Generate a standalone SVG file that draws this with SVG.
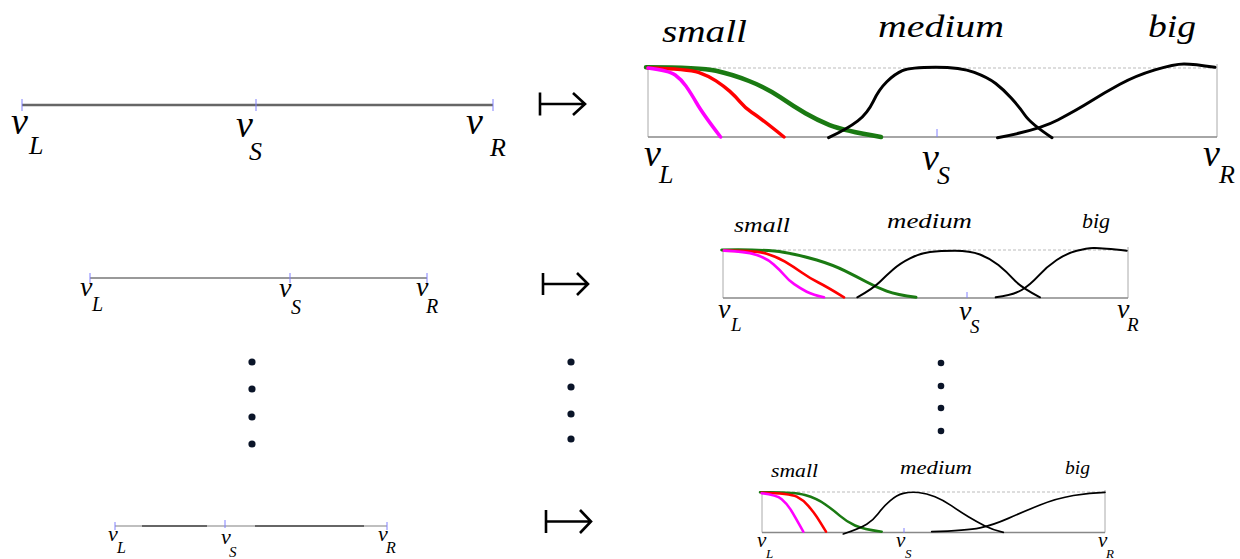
<svg xmlns="http://www.w3.org/2000/svg" width="1240" height="559" viewBox="0 0 1240 559">
<style>
text{font-family:'Liberation Serif','Times New Roman',serif;font-style:italic;fill:#000}
.tick{stroke:#8080ff;stroke-width:1}
.axis{stroke:#888;stroke-width:1.3;fill:none}
.dash{stroke:#bbb;stroke-width:1;stroke-dasharray:3 2;fill:none}
.side{stroke:#aaa;stroke-width:1;fill:none}
.c{fill:none;stroke-linecap:round;stroke-linejoin:round}
.mag{stroke:#ff00ff}.red{stroke:#ff0000}.grn{stroke:#1a7a12}.blk{stroke:#000}
.map{stroke:#000;stroke-width:2.6;fill:none;stroke-linejoin:miter}
.dot{fill:#0a1428}
</style>
<rect width="1240" height="559" fill="#fff"/>

<g id="left1">
<line x1="22" y1="105" x2="493" y2="105" stroke="#666" stroke-width="2.5"/>
<line class="tick" x1="22" y1="99" x2="22" y2="111"/>
<line class="tick" x1="256" y1="99" x2="256" y2="111"/>
<line class="tick" x1="493" y1="99" x2="493" y2="111"/>
<text x="11" y="134" font-size="38">v</text><text x="29" y="154" font-size="26">L</text>
<text x="236" y="137" font-size="38">v</text><text x="249" y="160" font-size="26">S</text>
<text x="466" y="134" font-size="38">v</text><text x="490" y="156" font-size="26">R</text>
</g>

<g id="left2">
<line x1="90" y1="278" x2="427" y2="278" stroke="#777" stroke-width="1.5"/>
<line class="tick" x1="90" y1="273" x2="90" y2="283"/>
<line class="tick" x1="290" y1="273" x2="290" y2="283"/>
<line class="tick" x1="427" y1="273" x2="427" y2="283"/>
<text x="80" y="296" font-size="28">v</text><text x="92" y="311" font-size="20">L</text>
<text x="279" y="297" font-size="28">v</text><text x="291" y="314" font-size="20">S</text>
<text x="416" y="296" font-size="28">v</text><text x="426" y="313" font-size="20">R</text>
</g>

<g id="left3">
<line x1="115" y1="526" x2="142" y2="526" stroke="#aaa" stroke-width="1.5"/>
<line x1="142" y1="526" x2="207" y2="526" stroke="#333" stroke-width="1.5"/>
<line x1="207" y1="526" x2="255" y2="526" stroke="#aaa" stroke-width="1.5"/>
<line x1="255" y1="526" x2="364" y2="526" stroke="#333" stroke-width="1.5"/>
<line x1="364" y1="526" x2="387" y2="526" stroke="#aaa" stroke-width="1.5"/>
<line class="tick" x1="115" y1="522" x2="115" y2="530"/>
<line class="tick" x1="225" y1="520" x2="225" y2="528"/>
<line class="tick" x1="387" y1="522" x2="387" y2="530"/>
<text x="108" y="541" font-size="22">v</text><text x="117" y="553" font-size="16">L</text>
<text x="221" y="544" font-size="22">v</text><text x="229" y="557" font-size="15">S</text>
<text x="378" y="541" font-size="22">v</text><text x="386" y="553" font-size="16">R</text>
</g>

<g id="dots">
<circle class="dot" cx="252" cy="362" r="3.6"/><circle class="dot" cx="252" cy="389" r="3.6"/><circle class="dot" cx="252" cy="417" r="3.6"/><circle class="dot" cx="252" cy="444" r="3.6"/>
<circle class="dot" cx="571" cy="362" r="3.6"/><circle class="dot" cx="571" cy="387" r="3.6"/><circle class="dot" cx="571" cy="414" r="3.6"/><circle class="dot" cx="571" cy="439" r="3.6"/>
<circle class="dot" cx="941" cy="363" r="3.3"/><circle class="dot" cx="941" cy="386" r="3.3"/><circle class="dot" cx="941" cy="408" r="3.3"/><circle class="dot" cx="941" cy="431" r="3.3"/>
</g>

<g id="connectors">
<path class="map" d="M540,92.5V115.5M540,104H585M573,93L585,104L573,115"/>
<path class="map" d="M543,273V295M543,284H588M577,273L588,284L577,295"/>
<path class="map" d="M546,510V533M546,521.5H591M580,510L591,521.5L580,533"/>
</g>

<g id="right1">
<text x="662" y="42" font-size="32" textLength="85" lengthAdjust="spacingAndGlyphs">small</text>
<text x="878" y="37" font-size="32" textLength="126" lengthAdjust="spacingAndGlyphs">medium</text>
<text x="1148" y="37" font-size="32" textLength="48" lengthAdjust="spacingAndGlyphs">big</text>
<line class="dash" x1="648" y1="68" x2="1217" y2="68"/>
<line class="side" x1="648" y1="68" x2="648" y2="137"/>
<line class="side" x1="1217" y1="64" x2="1217" y2="137"/>
<line class="axis" x1="648" y1="137" x2="1217" y2="137"/>
<line class="tick" x1="937" y1="129" x2="937" y2="137"/>
<path class="c grn" stroke-width="4.5" d="M646,67.3 Q700.4,67.3 716,70.8 Q731.5,74.2 749,81 Q766.5,87.8 780.1,97.2 Q793.7,106.5 805.4,113.3 Q817,120 829.6,125.1 Q842.2,130.2 881,137"/>
<path class="c red" stroke-width="3.5" d="M648,68 Q688.8,69 698.5,72.4 Q708.2,75.8 716,80.9 Q723.7,86 729.6,91.1 Q735.4,96.2 740.3,102.2 Q745.1,108.1 751.9,112.4 Q758.7,116.6 784,137"/>
<path class="c mag" stroke-width="3.5" d="M648,68 Q669.4,70.7 675.2,75 Q681,79.2 685.9,86 Q690.7,92.8 696.6,103 Q702.4,113.2 720.6,137"/>
<path class="c blk" stroke-width="3" d="M828.6,137.7 Q848,128.5 857.8,120.9 Q867.5,113.2 873.3,101.3 Q879,89.4 886.8,81.8 Q894.6,74.1 902.4,70.7 Q910.2,67.3 935.5,67.3 Q960.7,67.3 974.3,72.4 Q987.9,77.5 995.7,83.5 Q1003.4,89.4 1011.2,98 Q1019,106.5 1024.8,115 Q1030.6,123.5 1052,137.7"/>
<path class="c blk" stroke-width="3" d="M997.5,137.7 Q1038.3,130.2 1057.8,120 Q1077.2,109.8 1090.8,101.3 Q1104.3,92.8 1119.9,84.3 Q1135.4,75.8 1154.9,69.9 Q1174.3,63.9 1184,63.9 Q1193.7,63.9 1215,67.3"/>
<text x="644" y="166" font-size="38">v</text><text x="659" y="183" font-size="26">L</text>
<text x="922" y="170" font-size="38">v</text><text x="937" y="184" font-size="26">S</text>
<text x="1203" y="166" font-size="38">v</text><text x="1219" y="183" font-size="26">R</text>
</g>

<g id="right2">
<text x="734" y="232" font-size="21" textLength="56" lengthAdjust="spacingAndGlyphs">small</text>
<text x="887" y="228" font-size="21" textLength="85" lengthAdjust="spacingAndGlyphs">medium</text>
<text x="1082" y="228" font-size="21" textLength="28" lengthAdjust="spacingAndGlyphs">big</text>
<line class="dash" x1="723" y1="250" x2="1128" y2="250"/>
<line class="side" x1="723" y1="250" x2="723" y2="298"/>
<line class="side" x1="1128" y1="247" x2="1128" y2="298"/>
<line class="axis" x1="723" y1="298" x2="1128" y2="298"/>
<line class="tick" x1="967" y1="292" x2="967" y2="298"/>
<path class="c grn" stroke-width="3" d="M721.7,250 Q766.7,249.3 783.4,252.2 Q800,255 816.7,260 Q833.3,265 845,270.9 Q856.7,276.7 866.7,282 Q876.7,287.3 886.7,291.2 Q896.7,295 916,297.3"/>
<path class="c red" stroke-width="2.7" d="M724,250.7 Q756.7,250.7 766.7,253.7 Q776.7,256.7 785,261.7 Q793.3,266.7 801.7,272.5 Q810,278.3 818.4,282.5 Q826.7,286.7 844,297.3"/>
<path class="c mag" stroke-width="2.7" d="M724,250.7 Q746.7,251.7 756.7,255 Q766.7,258.3 773.4,264.2 Q780,270 784.2,275 Q788.3,280 794.2,284.2 Q800,288.3 806.7,291.7 Q813.3,295 824,297.3"/>
<path class="c blk" stroke-width="2" d="M857.3,297.3 Q873.3,288.3 880,281.7 Q886.7,275 893.4,269.2 Q900,263.3 910,258.3 Q920,253.3 930,252 Q940,250.7 955,250.7 Q970,250.7 980,254.5 Q990,258.3 998.4,265 Q1006.7,271.7 1013.4,279.2 Q1020,286.7 1040,297.3"/>
<path class="c blk" stroke-width="2" d="M995.7,297.3 Q1013.3,295 1021.7,290 Q1030,285 1038.4,275.9 Q1046.7,266.7 1056.7,260 Q1066.7,253.3 1076.7,250.8 Q1086.7,248.3 1093.4,248 Q1100,247.7 1126.7,250.7"/>
<text x="718" y="318" font-size="28">v</text><text x="731" y="331" font-size="19">L</text>
<text x="959" y="320" font-size="28">v</text><text x="970" y="333" font-size="19">S</text>
<text x="1117" y="318" font-size="28">v</text><text x="1127" y="331" font-size="19">R</text>
</g>

<g id="right3">
<text x="771" y="477" font-size="18" textLength="47" lengthAdjust="spacingAndGlyphs">small</text>
<text x="900" y="474" font-size="18" textLength="72" lengthAdjust="spacingAndGlyphs">medium</text>
<text x="1065" y="474" font-size="18" textLength="25" lengthAdjust="spacingAndGlyphs">big</text>
<line class="dash" x1="762" y1="492" x2="1105" y2="492"/>
<line class="side" x1="762" y1="492" x2="762" y2="532.5"/>
<line class="side" x1="1105" y1="490" x2="1105" y2="532.5"/>
<line class="axis" x1="762" y1="532.5" x2="1105" y2="532.5"/>
<line class="tick" x1="904" y1="528" x2="904" y2="533"/>
<path class="c grn" stroke-width="2.5" d="M760,492.3 Q793.3,491.7 805,495 Q816.7,498.3 825,504.2 Q833.3,510 840,515.9 Q846.7,521.7 855,525.5 Q863.3,529.3 881.7,531.7"/>
<path class="c red" stroke-width="2.5" d="M761.7,492.7 Q790,493.3 796.7,496.7 Q803.3,500 808.3,505.9 Q813.3,511.7 816.7,516.7 Q820,521.7 826,531.7"/>
<path class="c mag" stroke-width="2.5" d="M761.7,493.3 Q776.7,495 781.7,499.2 Q786.7,503.3 790.9,510 Q795,516.7 803.3,531.7"/>
<path class="c blk" stroke-width="1.7" d="M843.3,534 Q860,528.3 866.7,524.2 Q873.3,520 878.3,513.4 Q883.3,506.7 890,500.9 Q896.7,495 903.4,493.4 Q910,491.7 918.4,492.5 Q926.7,493.3 935,496.7 Q943.3,500 951.7,505.9 Q960,511.7 968.4,516.7 Q976.7,521.7 985,525.9 Q993.3,530 1003.3,532.3"/>
<path class="c blk" stroke-width="1.7" d="M931.7,531.7 Q966.7,530.7 980,527.9 Q993.3,525 1008.3,518.4 Q1023.3,511.7 1040,505 Q1056.7,498.3 1073.4,495.5 Q1090,492.7 1105,492.3"/>
<text x="757" y="547" font-size="21">v</text><text x="766" y="558" font-size="13">L</text>
<text x="896" y="547" font-size="21">v</text><text x="905" y="558" font-size="13">S</text>
<text x="1098" y="547" font-size="21">v</text><text x="1106" y="558" font-size="13">R</text>
</g>
</svg>
